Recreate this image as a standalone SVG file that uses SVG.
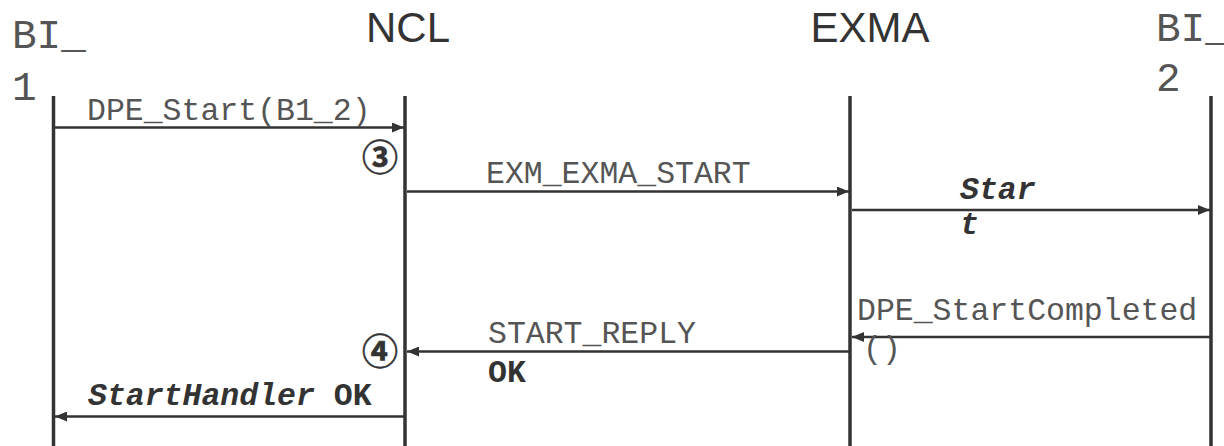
<svg xmlns="http://www.w3.org/2000/svg" width="1224" height="446" viewBox="0 0 1224 446">
<defs>
<marker id="ah" viewBox="0 0 12 10" refX="12" refY="5" markerWidth="12" markerHeight="10" markerUnits="userSpaceOnUse" orient="auto">
<path d="M0,0 L12,5 L0,10 z" fill="#333"/>
</marker>
</defs>
<style>
.life{stroke:#333;stroke-width:3.5;fill:none}
.msg{stroke:#333;stroke-width:2.5;fill:none;marker-end:url(#ah)}
.mono{font-family:"Liberation Mono","Courier New",monospace;font-size:31.5px;fill:#555}
.big{font-family:"Liberation Mono","Courier New",monospace;font-size:41px;fill:#555}
.title{font-family:"Liberation Sans",Arial,sans-serif;font-size:42px;fill:#333}
.bi{font-weight:bold;font-style:italic;fill:#333}
.b{font-weight:bold;fill:#333}
.num{font-family:"Noto Sans CJK SC","DejaVu Sans",sans-serif;font-size:36px;font-weight:bold;fill:#333;stroke:#333;stroke-width:0.6}
</style>
<rect width="1224" height="446" fill="#fff"/>
<g id="node-bi1">
<line class="life" x1="53.5" y1="96" x2="53.5" y2="446"/>
<text class="big" x="12" y="48">BI_</text>
<text class="big" x="12" y="100">1</text>
</g>
<g id="node-ncl">
<line class="life" x1="405" y1="96" x2="405" y2="446"/>
<text class="title" x="408" y="42" text-anchor="middle">NCL</text>
</g>
<g id="node-exma">
<line class="life" x1="850" y1="96" x2="850" y2="446"/>
<text class="title" x="870" y="42" text-anchor="middle">EXMA</text>
</g>
<g id="node-bi2">
<line class="life" x1="1211" y1="96" x2="1211" y2="446"/>
<text class="big" x="1156" y="41">BI_</text>
<text class="big" x="1156" y="91">2</text>
</g>
<g id="connectors">
<line class="msg" x1="55" y1="127.5" x2="404" y2="127.5"/>
<line class="msg" x1="407" y1="191.5" x2="849" y2="191.5"/>
<line class="msg" x1="852" y1="210" x2="1210" y2="210"/>
<line class="msg" x1="1210" y1="337" x2="852" y2="337"/>
<line class="msg" x1="849" y1="351.5" x2="407" y2="351.5"/>
<line class="msg" x1="404" y1="416.5" x2="55" y2="416.5"/>
</g>
<g id="labels">
<text class="mono" x="87" y="120">DPE_Start(B1_2)</text>
<text class="mono" x="486" y="183">EXM_EXMA_START</text>
<text class="mono bi" x="960" y="199">Star</text>
<text class="mono bi" x="960" y="234">t</text>
<text class="mono" x="857" y="320">DPE_StartCompleted</text>
<text class="mono" x="863" y="358">()</text>
<text class="mono" x="488" y="343">START_REPLY</text>
<text class="mono b" x="488" y="382">OK</text>
<text class="mono" x="88" y="405"><tspan class="bi">StartHandler</tspan><tspan class="b"> OK</tspan></text>
<text class="num" x="380" y="171" text-anchor="middle">③</text>
<text class="num" x="380" y="365" text-anchor="middle">④</text>
</g>
</svg>
